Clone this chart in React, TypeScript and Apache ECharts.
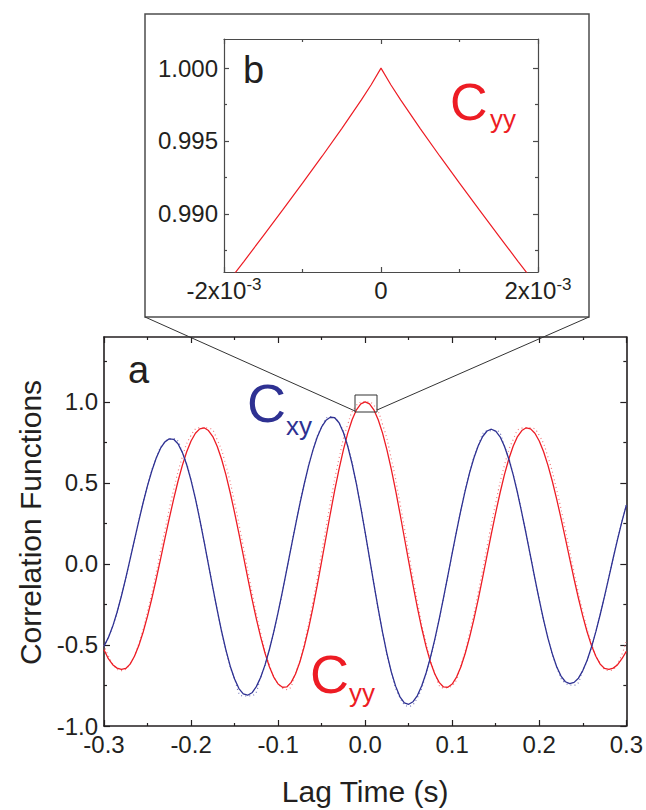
import React, { useEffect, useRef } from "react";
import * as echarts from "echarts";

// ---------- data ----------
// Fitted curves, lag time in seconds
const lagTimes = [
  -0.3, -0.295, -0.29, -0.285, -0.28, -0.275, -0.27, -0.265, -0.26, -0.255,
  -0.25, -0.245, -0.24, -0.235, -0.23, -0.225, -0.22, -0.215, -0.21, -0.205,
  -0.2, -0.195, -0.19, -0.185, -0.18, -0.175, -0.17, -0.165, -0.16, -0.155,
  -0.15, -0.145, -0.14, -0.135, -0.13, -0.125, -0.12, -0.115, -0.11, -0.105,
  -0.1, -0.095, -0.09, -0.085, -0.08, -0.075, -0.07, -0.065, -0.06, -0.055,
  -0.05, -0.045, -0.04, -0.035, -0.03, -0.025, -0.02, -0.015, -0.01, -0.005,
  0,
  0.005, 0.01, 0.015, 0.02, 0.025, 0.03, 0.035, 0.04, 0.045, 0.05,
  0.055, 0.06, 0.065, 0.07, 0.075, 0.08, 0.085, 0.09, 0.095, 0.1,
  0.105, 0.11, 0.115, 0.12, 0.125, 0.13, 0.135, 0.14, 0.145, 0.15,
  0.155, 0.16, 0.165, 0.17, 0.175, 0.18, 0.185, 0.19, 0.195, 0.2,
  0.205, 0.21, 0.215, 0.22, 0.225, 0.23, 0.235, 0.24, 0.245, 0.25,
  0.255, 0.26, 0.265, 0.27, 0.275, 0.28, 0.285, 0.29, 0.295, 0.3,
];

const cyyFit = [
  -0.53, -0.585, -0.622, -0.643, -0.651, -0.645, -0.618, -0.57, -0.504, -0.42,
  -0.322, -0.212, -0.093, 0.031, 0.157, 0.281, 0.4, 0.51, 0.608, 0.692,
  0.758, 0.806, 0.833, 0.84, 0.823, 0.786, 0.726, 0.647, 0.551, 0.439,
  0.317, 0.187, 0.052, -0.083, -0.215, -0.339, -0.452, -0.551, -0.634, -0.698,
  -0.741, -0.761, -0.759, -0.731, -0.679, -0.605, -0.51, -0.397, -0.269, -0.131,
  0.015, 0.163, 0.311, 0.453, 0.585, 0.704, 0.807, 0.889, 0.951, 0.987,
  1.0,
  0.987, 0.951, 0.889, 0.807, 0.704, 0.585, 0.453, 0.311, 0.163, 0.015,
  -0.131, -0.269, -0.397, -0.51, -0.605, -0.679, -0.731, -0.759, -0.761, -0.741,
  -0.698, -0.634, -0.551, -0.452, -0.339, -0.215, -0.083, 0.052, 0.187, 0.317,
  0.439, 0.551, 0.647, 0.726, 0.786, 0.823, 0.84, 0.833, 0.806, 0.758,
  0.692, 0.608, 0.51, 0.4, 0.281, 0.157, 0.031, -0.093, -0.212, -0.322,
  -0.42, -0.504, -0.57, -0.618, -0.645, -0.651, -0.643, -0.622, -0.585, -0.54,
];

const cxyFit = [
  -0.508, -0.455, -0.385, -0.298, -0.198, -0.088, 0.029, 0.148, 0.266, 0.379,
  0.483, 0.575, 0.653, 0.714, 0.753, 0.772, 0.769, 0.741, 0.688, 0.612,
  0.516, 0.403, 0.275, 0.138, -0.004, -0.146, -0.284, -0.414, -0.53, -0.631,
  -0.71, -0.769, -0.802, -0.81, -0.795, -0.757, -0.699, -0.623, -0.528, -0.419,
  -0.299, -0.17, -0.034, 0.104, 0.24, 0.371, 0.493, 0.605, 0.702, 0.783,
  0.845, 0.886, 0.905, 0.902, 0.871, 0.811, 0.726, 0.618, 0.492, 0.348,
  0.195,
  0.036, -0.123, -0.277, -0.423, -0.553, -0.666, -0.754, -0.82, -0.857, -0.866,
  -0.85, -0.812, -0.752, -0.673, -0.577, -0.465, -0.342, -0.21, -0.073, 0.066,
  0.202, 0.333, 0.454, 0.563, 0.655, 0.731, 0.786, 0.82, 0.831, 0.819,
  0.784, 0.726, 0.647, 0.551, 0.439, 0.314, 0.183, 0.046, -0.091, -0.222,
  -0.347, -0.459, -0.555, -0.634, -0.692, -0.727, -0.739, -0.731, -0.705, -0.658,
  -0.594, -0.513, -0.418, -0.312, -0.199, -0.081, 0.038, 0.153, 0.262, 0.362,
];

// Measured points (dotted), lag time in seconds
const lagTimesMeasured = [
  -0.3, -0.29, -0.28, -0.27, -0.26, -0.25, -0.24, -0.23, -0.22, -0.21,
  -0.2, -0.19, -0.18, -0.17, -0.16, -0.15, -0.14, -0.13, -0.12, -0.11,
  -0.1, -0.09, -0.08, -0.07, -0.06, -0.05, -0.04, -0.03, -0.02, -0.01,
  0,
  0.01, 0.02, 0.03, 0.04, 0.05, 0.06, 0.07, 0.08, 0.09, 0.1,
  0.11, 0.12, 0.13, 0.14, 0.15, 0.16, 0.17, 0.18, 0.19, 0.2,
  0.21, 0.22, 0.23, 0.24, 0.25, 0.26, 0.27, 0.28, 0.29, 0.3,
];

const cyyMeasured = [
  -0.5, -0.615, -0.658, -0.615, -0.491, -0.295, -0.052, 0.21, 0.457, 0.659,
  0.793, 0.84, 0.838, 0.767, 0.608, 0.378, 0.107, -0.173, -0.426, -0.624,
  -0.739, -0.775, -0.672, -0.489, -0.232, 0.069, 0.376, 0.651, 0.861, 0.979,
  1.0,
  0.979, 0.861, 0.651, 0.376, 0.069, -0.232, -0.489, -0.672, -0.765, -0.75,
  -0.624, -0.426, -0.173, 0.107, 0.378, 0.608, 0.767, 0.838, 0.84, 0.793,
  0.659, 0.457, 0.21, -0.052, -0.295, -0.491, -0.615, -0.658, -0.615, -0.47,
];

const cxyMeasured = [
  -0.508, -0.385, -0.198, 0.029, 0.266, 0.483, 0.653, 0.753, 0.772, 0.688,
  0.516, 0.275, -0.004, -0.284, -0.53, -0.71, -0.815, -0.812, -0.699, -0.528,
  -0.299, -0.034, 0.24, 0.493, 0.702, 0.845, 0.908, 0.871, 0.726, 0.492,
  0.195,
  -0.123, -0.423, -0.666, -0.825, -0.878, -0.825, -0.673, -0.465, -0.21, 0.066,
  0.333, 0.563, 0.731, 0.82, 0.822, 0.726, 0.551, 0.314, 0.046, -0.222,
  -0.459, -0.634, -0.735, -0.748, -0.658, -0.513, -0.312, -0.081, 0.153, 0.362,
];

// Inset (b): zoom on the Cyy peak
const insetLagTimes = [
  -0.002, -0.00175, -0.0015, -0.00125, -0.001, -0.00075, -0.0005, -0.00025, -0.000125,
  0,
  0.000125, 0.00025, 0.0005, 0.00075, 0.001, 0.00125, 0.0015, 0.00175, 0.002,
];
const insetCyy = [
  0.98495, 0.9867, 0.98848, 0.99028, 0.9921, 0.99395, 0.99585, 0.99782, 0.99886,
  1.0,
  0.99886, 0.99782, 0.99585, 0.99395, 0.9921, 0.99028, 0.98848, 0.9867, 0.98495,
];

// Tick values
const mainXMajor = [-0.3, -0.2, -0.1, 0, 0.1, 0.2, 0.3];
const mainXMinor = [-0.25, -0.15, -0.05, 0.05, 0.15, 0.25];
const mainYMajor = [-1.0, -0.5, 0, 0.5, 1.0];
const mainYMinor = [-0.75, -0.25, 0.25, 0.75, 1.25];
const insetXMajor = [-0.002, 0, 0.002];
const insetXMinor = [-0.001, 0.001];
const insetYMajor = [0.99, 0.995, 1.0];
const insetYMinor = [0.9875, 0.9925, 0.9975];

// ---------- styling ----------
const FONT = "'Liberation Sans', Arial, Helvetica, sans-serif";
const INK = "#231F20";
const RED = "#ED1C24";
const BLUE = "#2E3192";
const RED_DOT = "#F07A7E";
const BLUE_DOT = "#7577BC";

const pairs = (xs: number[], ys: number[]) => xs.map((x, i) => [x, ys[i]]);

function tickAxis(
  gridIndex: number,
  position: string,
  min: number,
  max: number,
  ticks: number[],
  tickLen: number,
  showLine: boolean,
  lineColor: string,
  lineWidth: number,
  label?: any
): any {
  return {
    type: "value",
    gridIndex,
    position,
    min,
    max,
    axisLine: {
      show: showLine,
      onZero: false,
      lineStyle: { color: lineColor, width: lineWidth },
    },
    axisTick: {
      show: true,
      inside: true,
      length: tickLen,
      customValues: ticks,
      lineStyle: { color: lineColor, width: 1.2 },
    },
    minorTick: { show: false },
    splitLine: { show: false },
    axisLabel: label ? label : { show: false },
  };
}

export default function App() {
  const ref = useRef<HTMLDivElement>(null);

  useEffect(() => {
    document.body.style.margin = "0";
    if (!ref.current) return;
    const chart = echarts.init(ref.current, undefined, { renderer: "svg" });

    const mainLabel = (values: number[], margin: number) => ({
      show: true,
      customValues: values,
      formatter: (v: number) => (Math.abs(v) < 1e-9 ? "0.0" : v.toFixed(1)),
      fontSize: 24,
      fontFamily: FONT,
      color: INK,
      margin,
    });

    const xAxis = [
      // main plot (a)
      {
        ...tickAxis(0, "bottom", -0.3, 0.3, mainXMajor, 6, true, INK, 1.6, mainLabel(mainXMajor, 6)),
        name: "Lag Time (s)",
        nameLocation: "middle",
        nameGap: 50,
        nameTextStyle: { fontSize: 30, fontFamily: FONT, color: INK },
      },
      tickAxis(0, "bottom", -0.3, 0.3, mainXMinor, 3, false, INK, 1.6),
      tickAxis(0, "top", -0.3, 0.3, mainXMajor, 6, true, INK, 1.6),
      tickAxis(0, "top", -0.3, 0.3, mainXMinor, 3, false, INK, 1.6),
      // inset (b)
      tickAxis(1, "bottom", -0.002, 0.002, insetXMajor, 5, true, "#4A4A4A", 1.2, {
        show: true,
        customValues: insetXMajor,
        margin: 4,
        formatter: (v: number) => {
          if (Math.abs(v) < 1e-12) return "{m|0}";
          const mant = Math.round(v * 1000);
          return `{m|${mant}x10}{s|-3}`;
        },
        rich: {
          m: { fontSize: 24, lineHeight: 26, fontFamily: FONT, color: INK, verticalAlign: "bottom" },
          s: { fontSize: 17, lineHeight: 14, fontFamily: FONT, color: INK, verticalAlign: "top" },
        },
      }),
      tickAxis(1, "bottom", -0.002, 0.002, insetXMinor, 3, false, "#4A4A4A", 1.2),
      tickAxis(1, "top", -0.002, 0.002, insetXMajor, 5, true, "#4A4A4A", 1.2),
      tickAxis(1, "top", -0.002, 0.002, insetXMinor, 3, false, "#4A4A4A", 1.2),
    ];

    const yAxis = [
      {
        ...tickAxis(0, "left", -1.0, 1.4, mainYMajor, 6, true, INK, 1.6, mainLabel(mainYMajor, 6)),
        name: "Correlation Functions",
        nameLocation: "middle",
        nameGap: 57,
        nameTextStyle: { fontSize: 30, fontFamily: FONT, color: INK, padding: [0, 0, 0, 18] },
      },
      tickAxis(0, "left", -1.0, 1.4, mainYMinor, 3, false, INK, 1.6),
      tickAxis(0, "right", -1.0, 1.4, mainYMajor, 6, true, INK, 1.6),
      tickAxis(0, "right", -1.0, 1.4, mainYMinor, 3, false, INK, 1.6),
      tickAxis(1, "left", 0.986, 1.002, insetYMajor, 5, true, "#4A4A4A", 1.2, {
        show: true,
        customValues: insetYMajor,
        formatter: (v: number) => v.toFixed(3),
        fontSize: 24,
        fontFamily: FONT,
        color: INK,
        margin: 6,
      }),
      tickAxis(1, "left", 0.986, 1.002, insetYMinor, 3, false, "#4A4A4A", 1.2),
      tickAxis(1, "right", 0.986, 1.002, insetYMajor, 5, true, "#4A4A4A", 1.2),
      tickAxis(1, "right", 0.986, 1.002, insetYMinor, 3, false, "#4A4A4A", 1.2),
    ];

    const line = (
      name: string,
      data: number[][],
      color: string,
      width: number,
      type: any,
      axisIdx: number,
      z: number,
      smooth: boolean
    ) => ({
      type: "line",
      name,
      data,
      xAxisIndex: axisIdx,
      yAxisIndex: axisIdx,
      showSymbol: false,
      symbol: "none",
      smooth,
      clip: true,
      z,
      lineStyle: { color, width, type },
      itemStyle: { color },
      emphasis: { disabled: true },
    });

    const textEl = (text: string, x: number, y: number, size: number, color: string) => ({
      type: "text",
      x,
      y,
      z: 10,
      style: {
        text,
        fontSize: size,
        fontFamily: FONT,
        fill: color,
        align: "left",
        verticalAlign: "middle",
      },
    });

    chart.setOption({
      animation: false,
      backgroundColor: "#ffffff",
      textStyle: { fontFamily: FONT },
      grid: [
        { left: 104, top: 337, width: 523, height: 389, containLabel: false },
        { left: 224, top: 39, width: 314, height: 233, containLabel: false },
      ],
      xAxis,
      yAxis,
      series: [
        line("Cyy measured", pairs(lagTimesMeasured, cyyMeasured), RED_DOT, 1.2, [1, 3], 0, 2, true),
        line("Cxy measured", pairs(lagTimesMeasured, cxyMeasured), BLUE_DOT, 1.2, [1, 3], 0, 2, true),
        line("Cyy", pairs(lagTimes, cyyFit), RED, 1.3, "solid", 0, 3, false),
        line("Cxy", pairs(lagTimes, cxyFit), BLUE, 1.3, "solid", 0, 3, false),
        line("Cyy inset", pairs(insetLagTimes, insetCyy), RED, 1.2, "solid", 4, 3, false),
      ],
      graphic: [
        {
          type: "rect",
          shape: { x: 145, y: 14, width: 444, height: 303 },
          style: { fill: "none", stroke: "#4D4D4D", lineWidth: 1.5 },
          z: 1,
        },
        {
          type: "line",
          shape: { x1: 145, y1: 317, x2: 355, y2: 411 },
          style: { stroke: "#333333", lineWidth: 1 },
          z: 5,
        },
        {
          type: "line",
          shape: { x1: 589, y1: 317, x2: 377, y2: 410 },
          style: { stroke: "#333333", lineWidth: 1 },
          z: 5,
        },
        {
          type: "rect",
          shape: { x: 355, y: 395, width: 22, height: 17 },
          style: { fill: "none", stroke: "#333333", lineWidth: 1 },
          z: 5,
        },
        textEl("a", 128, 370, 38, INK),
        textEl("b", 243, 70, 38, INK),
        textEl("C", 247, 403, 54, BLUE),
        textEl("xy", 286, 426, 26, BLUE),
        textEl("C", 310, 674, 54, RED),
        textEl("yy", 349, 693, 26, RED),
        textEl("C", 450, 102, 52, RED),
        textEl("yy", 490, 119, 26, RED),
      ],
    });

    return () => chart.dispose();
  }, []);

  return (
    <div
      ref={ref}
      style={{ position: "fixed", left: 0, top: 0, width: 646, height: 810, background: "#fff" }}
    />
  );
}
